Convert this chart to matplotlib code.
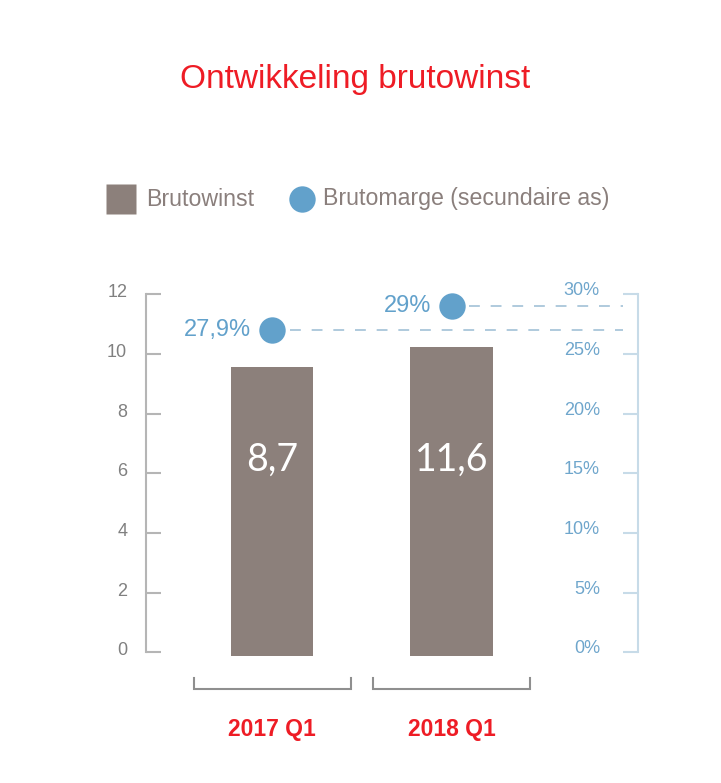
import matplotlib
matplotlib.use("Agg")
import matplotlib.pyplot as plt
from matplotlib.lines import Line2D
from matplotlib.transforms import ScaledTranslation

plt.rcParams['font.family'] = ['Liberation Sans', 'DejaVu Sans']

# ---- data ----
categories = ["2017 Q1", "2018 Q1"]
bar_heights = [9.55, 10.23]          # as drawn on the left axis
bar_labels = ["8,7", "11,6"]
margin_values = [27.0, 29.0]         # as drawn on the secondary axis (%)
margin_labels = ["27,9%", "29%"]
left_ticks = [0, 2, 4, 6, 8, 10, 12]
right_ticks = [0, 5, 10, 15, 20, 25, 30]
right_tick_labels = ["0%", "5%", "10%", "15%", "20%", "25%", "30%"]

# ---- colours ----
BAR = "#8c807b"
MARK = "#62a1cb"
RED = "#ee1c25"
GREY_TXT = "#808080"
GREY_AX = "#b5b5b5"
BLUE_AX = "#c7dbe8"
BLUE_TXT = "#6fa6cc"
DASH = "#a9c6da"

W, H = 721, 783
fig = plt.figure(figsize=(W / 100, H / 100), dpi=100)

def fx(px):
    return px / W

def fy(py):
    return 1 - py / H

# axes placement
y0_px, y12_px = 652.3, 294.3
ppu = (y0_px - y12_px) / 12.0
ylo, yhi = -0.3, 12.3
xc0, xstep = 272.0, 179.5
xlo, xhi = -0.75, 2.1
left_px = xc0 + xlo * xstep
right_px = xc0 + xhi * xstep
bot_px = y0_px - ylo * ppu
top_px = y0_px - yhi * ppu
ax = fig.add_axes([fx(left_px), fy(bot_px), fx(right_px - left_px), (bot_px - top_px) / H])
ax.set_xlim(xlo, xhi)
ax.set_ylim(ylo, yhi)
ax.patch.set_alpha(0)

x = list(range(len(categories)))
base = -0.13
ax.bar(x, [h - base for h in bar_heights], bottom=base, width=0.457, color=BAR, zorder=2)
for xi, h, lab in zip(x, bar_heights, bar_labels):
    ax.text(xi, 6.45, lab, ha="center", va="center", color="white",
            fontsize=27, family=["Lato", "DejaVu Sans"], zorder=3)

for s in ["top", "right", "bottom"]:
    ax.spines[s].set_visible(False)
lsp = (146 - xc0) / xstep
ax.spines["left"].set_position(("data", lsp))
ax.spines["left"].set_bounds(0, 12)
ax.spines["left"].set_color(GREY_AX)
ax.spines["left"].set_linewidth(1.5)
ax.set_yticks(left_ticks)
ax.tick_params(axis="y", direction="in", length=10.8, width=1.5, color=GREY_AX,
               labelcolor=GREY_TXT, labelsize=13, pad=13.5)
ax.set_xticks(x)
ax.set_xticklabels(categories, fontsize=16.5, fontweight="bold", color=RED)
ax.tick_params(axis="x", length=0, pad=41)
up_l = ScaledTranslation(0, 0.035, fig.dpi_scale_trans)
for t in ax.yaxis.get_major_ticks():
    t.label1.set_transform(t.label1.get_transform() + up_l)

# category brackets
for xi in x:
    ax.plot([xi - 0.435, xi - 0.435, xi + 0.438, xi + 0.438],
            [-0.86, -1.23, -1.23, -0.86], color="#8f8f8f", lw=1.5,
            clip_on=False, solid_joinstyle="miter")

# secondary axis
ax2 = ax.twinx()
ax2.set_ylim(ylo * 2.5, yhi * 2.5)
for s in ["top", "left", "bottom"]:
    ax2.spines[s].set_visible(False)
rsp = (638 - xc0) / xstep
ax2.spines["right"].set_position(("data", rsp))
ax2.spines["right"].set_bounds(0, 30)
ax2.spines["right"].set_color(BLUE_AX)
ax2.spines["right"].set_linewidth(1.5)
ax2.set_yticks(right_ticks)
ax2.set_yticklabels(right_tick_labels)
ax2.tick_params(axis="y", direction="in", length=10.8, width=1.5, color=BLUE_AX,
                labelcolor=BLUE_TXT, labelsize=13, pad=-27.4)
up_r = ScaledTranslation(0, 0.055, fig.dpi_scale_trans)
for t in ax2.yaxis.get_major_ticks():
    t.label2.set_ha("right")
    t.label2.set_transform(t.label2.get_transform() + up_r)

tick_end = (623 - xc0) / xstep
for xi, v, lab in zip(x, margin_values, margin_labels):
    ax2.plot([xi + 0.1, tick_end], [v, v], color=DASH, lw=1.3,
             dashes=(6, 6), zorder=1)
    ax2.plot([xi], [v], marker="o", ms=19, color=MARK, mec="none", zorder=4)
    ax2.text(xi - 0.115, v, lab, ha="right", va="center", color=MARK,
             fontsize=17, zorder=4)

# title
fig.text(fx(355), fy(88), "Ontwikkeling brutowinst", ha="center", va="baseline",
         color=RED, fontsize=24)

# legend
fig.add_artist(Line2D([fx(121)], [fy(199)], marker="s", ms=21.5, color=BAR,
                      mec="none", transform=fig.transFigure))
fig.text(fx(146), fy(199), "Brutowinst", ha="left", va="center", color="#8a7f7c",
         fontsize=16.7)
fig.add_artist(Line2D([fx(302)], [fy(199)], marker="o", ms=19, color=MARK,
                      mec="none", transform=fig.transFigure))
fig.text(fx(323), fy(199), "Brutomarge (secundaire as)", ha="left", va="center",
         color="#8a7f7c", fontsize=16.7)

fig.savefig("out.png", dpi=100)
